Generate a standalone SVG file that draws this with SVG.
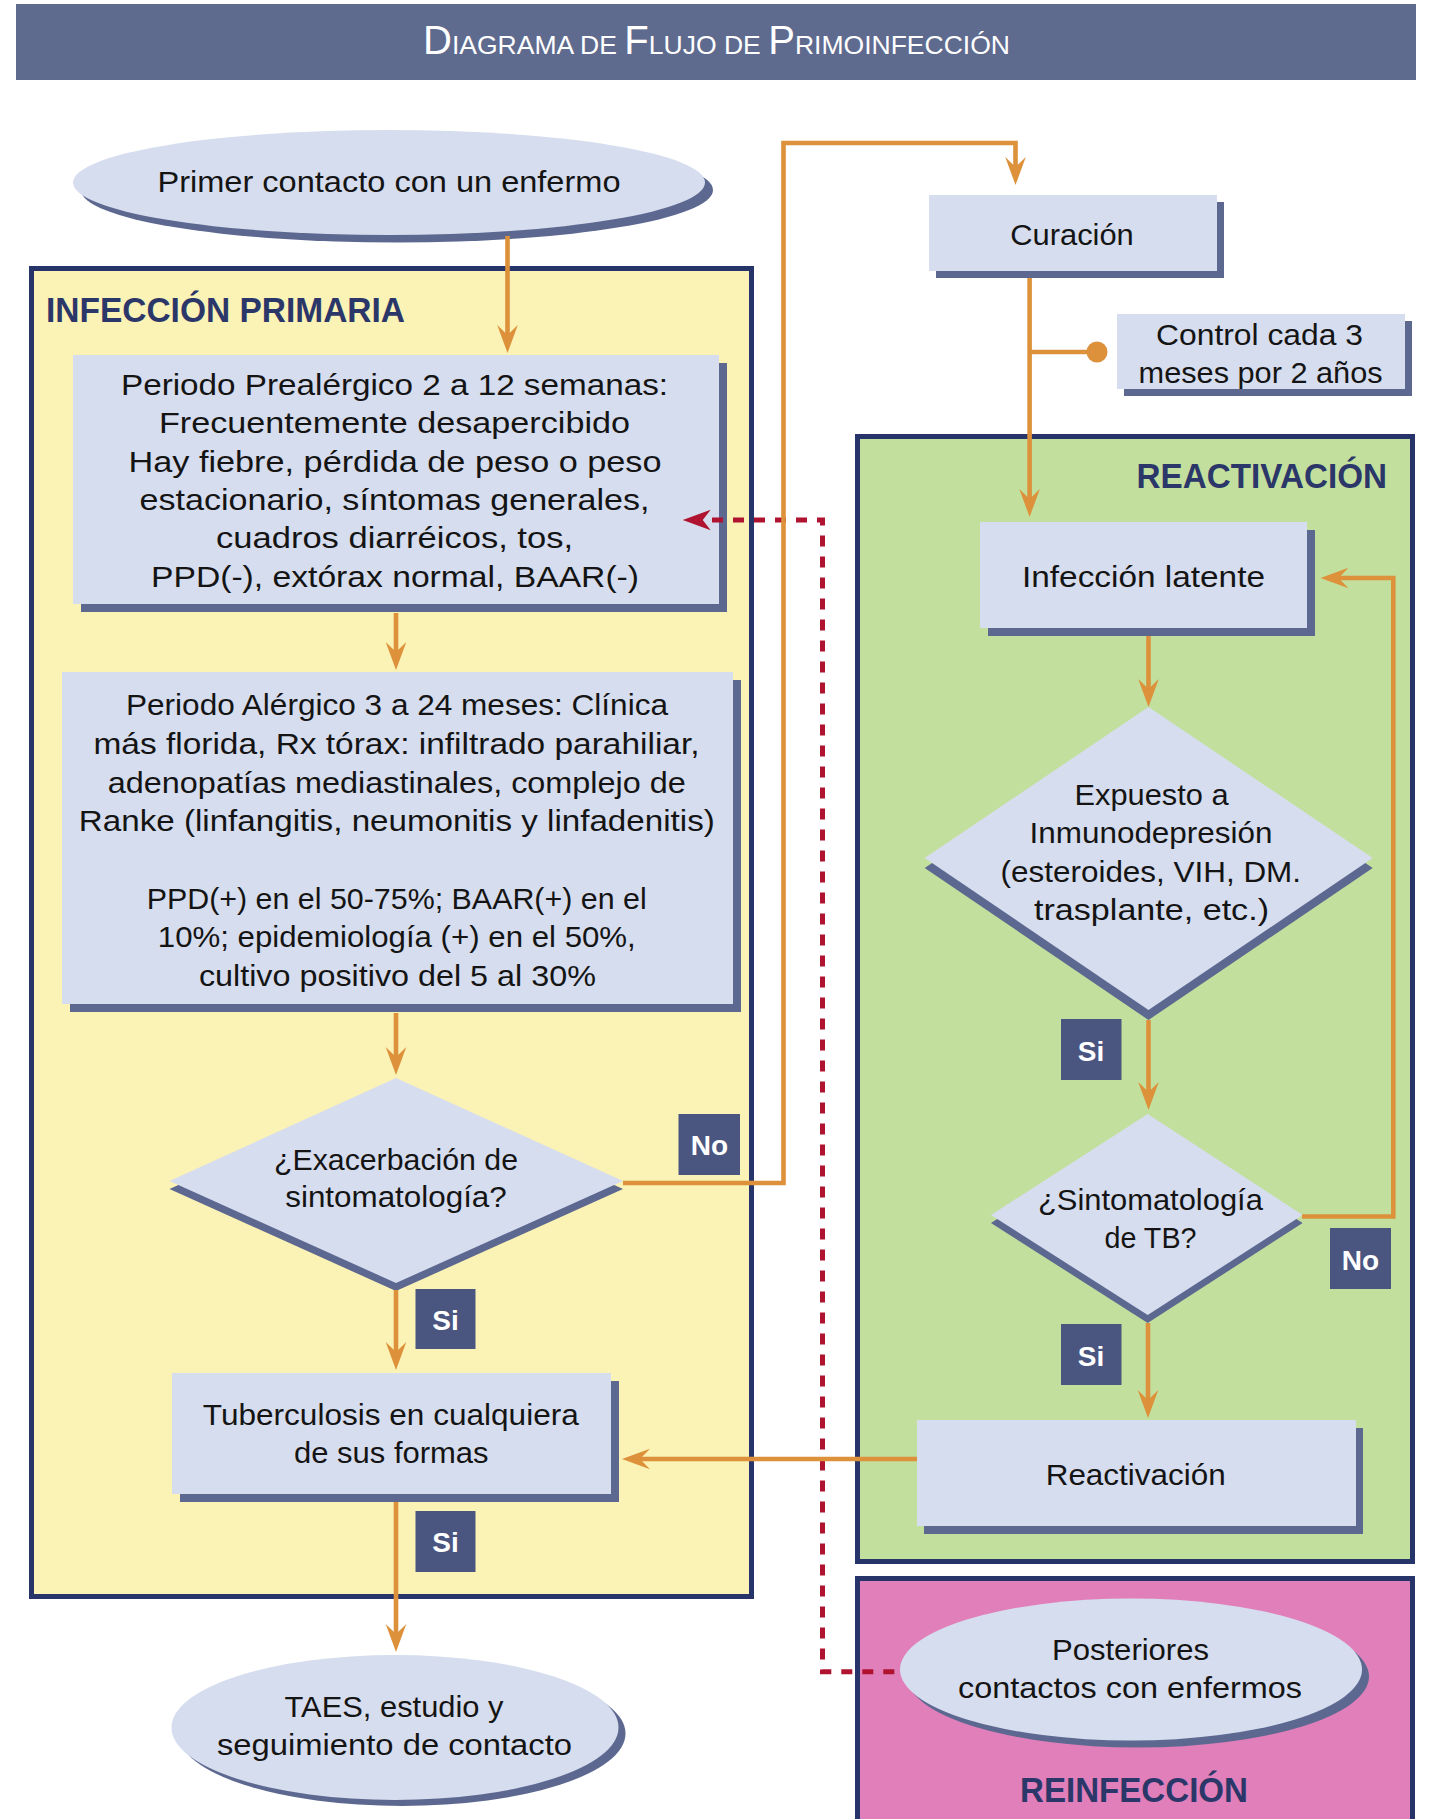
<svg xmlns="http://www.w3.org/2000/svg" width="1431" height="1819" viewBox="0 0 1431 1819">
<style>
.t{font-family:"Liberation Sans",Arial,sans-serif;font-size:30px;fill:#141414;text-anchor:middle}
.h{font-family:"Liberation Sans",Arial,sans-serif;font-weight:bold;font-size:35px;fill:#2b3769}
.lbl{font-family:"Liberation Sans",Arial,sans-serif;font-weight:bold;font-size:28px;fill:#ffffff;text-anchor:middle}
.node{fill:#d6ddee}
.sh{fill:#5d6890}
.lb{fill:#4a5580}
.grp{stroke:#273469;stroke-width:5}
.conn{stroke:#dc913a;stroke-width:4.6;fill:none}
.dash{stroke:#b0132f;stroke-width:5;fill:none;stroke-dasharray:11 10}
</style>
<defs>
<marker id="oa" viewBox="-20 -12 32 24" refX="0" refY="0" markerWidth="32" markerHeight="24" orient="auto" markerUnits="userSpaceOnUse" overflow="visible">
<path d="M10,0 L-18,-10.3 L-8,0 L-18,10.3 Z" fill="#dc913a"/>
</marker>
</defs>

<g id="header">
<rect x="16" y="4" width="1400" height="76" fill="#5e6a8e"/>
<text x="423" y="54" font-family="Liberation Sans, Arial, sans-serif" fill="#ffffff" textLength="587" lengthAdjust="spacingAndGlyphs"><tspan font-size="40">D</tspan><tspan font-size="26.5">IAGRAMA DE </tspan><tspan font-size="40">F</tspan><tspan font-size="26.5">LUJO DE </tspan><tspan font-size="40">P</tspan><tspan font-size="26.5">RIMOINFECCIÓN</tspan></text>
</g>

<g id="grp-primaria">
<rect class="grp" x="31.5" y="268.5" width="720" height="1328" fill="#fbf2b6"/>
<text class="h" x="46" y="322" textLength="359" lengthAdjust="spacingAndGlyphs">INFECCIÓN PRIMARIA</text>
</g>
<g id="grp-reactivacion">
<rect class="grp" x="857.5" y="436.5" width="555" height="1125" fill="#c3df9e"/>
<text class="h" x="1136.5" y="488" textLength="250.5" lengthAdjust="spacingAndGlyphs">REACTIVACIÓN</text>
</g>
<g id="grp-reinfeccion">
<rect class="grp" x="857.5" y="1578.5" width="555" height="270" fill="#e07fba"/>
<text class="h" x="1020" y="1802" textLength="228" lengthAdjust="spacingAndGlyphs">REINFECCIÓN</text>
</g>

<g id="n-primer">
<ellipse class="sh" cx="397" cy="190" rx="316" ry="52.5"/>
<ellipse class="node" cx="389" cy="182.5" rx="316" ry="52.5"/>
<text class="t" x="389" y="192" textLength="463" lengthAdjust="spacingAndGlyphs">Primer contacto con un enfermo</text>
</g>

<g id="n-prealergico">
<rect class="sh" x="81" y="363" width="646" height="249"/>
<rect class="node" x="73" y="355" width="646" height="249"/>
<text class="t" x="394.5" y="395" textLength="547" lengthAdjust="spacingAndGlyphs">Periodo Prealérgico 2 a 12 semanas:</text>
<text class="t" x="394.5" y="433" textLength="471" lengthAdjust="spacingAndGlyphs">Frecuentemente desapercibido</text>
<text class="t" x="395" y="471.5" textLength="533" lengthAdjust="spacingAndGlyphs">Hay fiebre, pérdida de peso o peso</text>
<text class="t" x="394.5" y="510" textLength="510" lengthAdjust="spacingAndGlyphs">estacionario, síntomas generales,</text>
<text class="t" x="394.5" y="548" textLength="357" lengthAdjust="spacingAndGlyphs">cuadros diarréicos, tos,</text>
<text class="t" x="395" y="586.5" textLength="488" lengthAdjust="spacingAndGlyphs">PPD(-), extórax normal, BAAR(-)</text>
</g>

<g id="n-alergico">
<rect class="sh" x="70" y="680" width="671" height="332"/>
<rect class="node" x="62" y="672" width="671" height="332"/>
<text class="t" x="397" y="715" textLength="542" lengthAdjust="spacingAndGlyphs">Periodo Alérgico 3 a 24 meses: Clínica</text>
<text class="t" x="396.5" y="753.5" textLength="606" lengthAdjust="spacingAndGlyphs">más florida, Rx tórax: infiltrado parahiliar,</text>
<text class="t" x="396.8" y="792.5" textLength="578" lengthAdjust="spacingAndGlyphs">adenopatías mediastinales, complejo de</text>
<text class="t" x="396.8" y="831" textLength="636" lengthAdjust="spacingAndGlyphs">Ranke (linfangitis, neumonitis y linfadenitis)</text>
<text class="t" x="396.7" y="908.5" textLength="500" lengthAdjust="spacingAndGlyphs">PPD(+) en el 50-75%; BAAR(+) en el</text>
<text class="t" x="396.8" y="947" textLength="478" lengthAdjust="spacingAndGlyphs">10%; epidemiología (+) en el 50%,</text>
<text class="t" x="397.4" y="985.5" textLength="397" lengthAdjust="spacingAndGlyphs">cultivo positivo del 5 al 30%</text>
</g>

<g id="n-exacerbacion">
<polygon class="sh" points="396,1086 623,1189 396,1291 169.5,1189"/>
<polygon class="node" points="396,1078 623,1181 396,1283 169.5,1181"/>
<text class="t" x="396" y="1170" textLength="244" lengthAdjust="spacingAndGlyphs">¿Exacerbación de</text>
<text class="t" x="396" y="1207" textLength="221.5" lengthAdjust="spacingAndGlyphs">sintomatología?</text>
</g>

<g id="n-tuberculosis">
<rect class="sh" x="180" y="1381" width="439" height="121"/>
<rect class="node" x="172" y="1373" width="439" height="121"/>
<text class="t" x="390.8" y="1425" textLength="376" lengthAdjust="spacingAndGlyphs">Tuberculosis en cualquiera</text>
<text class="t" x="391.3" y="1463" textLength="194.6" lengthAdjust="spacingAndGlyphs">de sus formas</text>
</g>

<g id="n-taes">
<ellipse class="sh" cx="402" cy="1733.5" rx="223.5" ry="72.5"/>
<ellipse class="node" cx="395" cy="1727.5" rx="223.5" ry="72.5"/>
<text class="t" x="394" y="1716.7" textLength="219" lengthAdjust="spacingAndGlyphs">TAES, estudio y</text>
<text class="t" x="394.5" y="1755" textLength="355" lengthAdjust="spacingAndGlyphs">seguimiento de contacto</text>
</g>

<g id="n-curacion">
<rect class="sh" x="936" y="202" width="288" height="76"/>
<rect class="node" x="929" y="195" width="288" height="76"/>
<text class="t" x="1072" y="245" textLength="123.6" lengthAdjust="spacingAndGlyphs">Curación</text>
</g>

<g id="n-control">
<rect class="sh" x="1124" y="321" width="288" height="75"/>
<rect class="node" x="1117" y="314" width="288" height="75"/>
<text class="t" x="1259.5" y="345" textLength="207" lengthAdjust="spacingAndGlyphs">Control cada 3</text>
<text class="t" x="1260.6" y="383" textLength="244" lengthAdjust="spacingAndGlyphs">meses por 2 años</text>
</g>

<g id="n-latente">
<rect class="sh" x="988" y="530" width="327" height="106"/>
<rect class="node" x="980" y="522" width="327" height="106"/>
<text class="t" x="1143.5" y="587" textLength="243" lengthAdjust="spacingAndGlyphs">Infección latente</text>
</g>

<g id="n-expuesto">
<polygon class="sh" points="1148.5,717 1372.7,868 1148.5,1020 924.7,868"/>
<polygon class="node" points="1148.5,707 1372.7,858 1148.5,1010 924.7,858"/>
<text class="t" x="1151.5" y="805" textLength="154" lengthAdjust="spacingAndGlyphs">Expuesto a</text>
<text class="t" x="1151" y="843" textLength="243" lengthAdjust="spacingAndGlyphs">Inmunodepresión</text>
<text class="t" x="1150.8" y="882" textLength="300.5" lengthAdjust="spacingAndGlyphs">(esteroides, VIH, DM.</text>
<text class="t" x="1151.5" y="920" textLength="235" lengthAdjust="spacingAndGlyphs">trasplante, etc.)</text>
</g>

<g id="n-sintomatologia">
<polygon class="sh" points="1147.7,1122 1302.6,1223 1147.7,1323 991,1223"/>
<polygon class="node" points="1147.7,1114 1302.6,1215 1147.7,1315 991,1215"/>
<text class="t" x="1150.4" y="1210" textLength="224.8" lengthAdjust="spacingAndGlyphs">¿Sintomatología</text>
<text class="t" x="1150.5" y="1248" textLength="92" lengthAdjust="spacingAndGlyphs">de TB?</text>
</g>

<g id="n-reactivacion">
<rect class="sh" x="924" y="1428" width="439" height="106"/>
<rect class="node" x="917" y="1420" width="439" height="106"/>
<text class="t" x="1135.7" y="1485" textLength="180" lengthAdjust="spacingAndGlyphs">Reactivación</text>
</g>

<g id="n-posteriores">
<ellipse class="sh" cx="1138" cy="1676.5" rx="231" ry="71"/>
<ellipse class="node" cx="1131" cy="1669.5" rx="231" ry="71"/>
<text class="t" x="1130.5" y="1660" textLength="157" lengthAdjust="spacingAndGlyphs">Posteriores</text>
<text class="t" x="1130" y="1698" textLength="344" lengthAdjust="spacingAndGlyphs">contactos con enfermos</text>
</g>

<g id="connectors">
<path class="dash" d="M712,520 H822.5 V1671.7 H900"/>
<polygon points="682.7,520 710.7,509.7 702.7,520 710.7,530.3" fill="#b0132f"/>
<path class="conn" d="M507.5,236 V343" marker-end="url(#oa)"/>
<path class="conn" d="M396,613 V660" marker-end="url(#oa)"/>
<path class="conn" d="M396,1013 V1065" marker-end="url(#oa)"/>
<path class="conn" d="M396,1290 V1360" marker-end="url(#oa)"/>
<path class="conn" d="M396,1502 V1642" marker-end="url(#oa)"/>
<path class="conn" d="M623,1183 H783.5 V143 H1015.5 V175" marker-end="url(#oa)"/>
<path class="conn" d="M1029.6,278 V507" marker-end="url(#oa)"/>
<path class="conn" d="M1029.6,352 H1092"/>
<circle cx="1097" cy="352" r="10.5" fill="#dc913a"/>
<path class="conn" d="M1148.5,636 V697" marker-end="url(#oa)"/>
<path class="conn" d="M1148.5,1020 V1100" marker-end="url(#oa)"/>
<path class="conn" d="M1148,1323 V1408" marker-end="url(#oa)"/>
<path class="conn" d="M1302,1216.5 H1393.3 V578 H1330.5" marker-end="url(#oa)"/>
<path class="conn" d="M917,1459 H632" marker-end="url(#oa)"/>
</g>

<g id="labels">
<g id="lbl-no-1"><rect class="lb" x="678.5" y="1114" width="61.5" height="61"/><text class="lbl" x="709.5" y="1155">No</text></g>
<g id="lbl-si-1"><rect class="lb" x="415.5" y="1289" width="60" height="60"/><text class="lbl" x="445.5" y="1330">Si</text></g>
<g id="lbl-si-2"><rect class="lb" x="415.5" y="1511" width="60" height="61"/><text class="lbl" x="445.5" y="1552">Si</text></g>
<g id="lbl-si-3"><rect class="lb" x="1061" y="1019" width="60.5" height="61"/><text class="lbl" x="1091" y="1061">Si</text></g>
<g id="lbl-no-2"><rect class="lb" x="1330" y="1228" width="61" height="61"/><text class="lbl" x="1360.5" y="1270">No</text></g>
<g id="lbl-si-4"><rect class="lb" x="1061" y="1324" width="60.5" height="61"/><text class="lbl" x="1091" y="1366">Si</text></g>
</g>
</svg>
